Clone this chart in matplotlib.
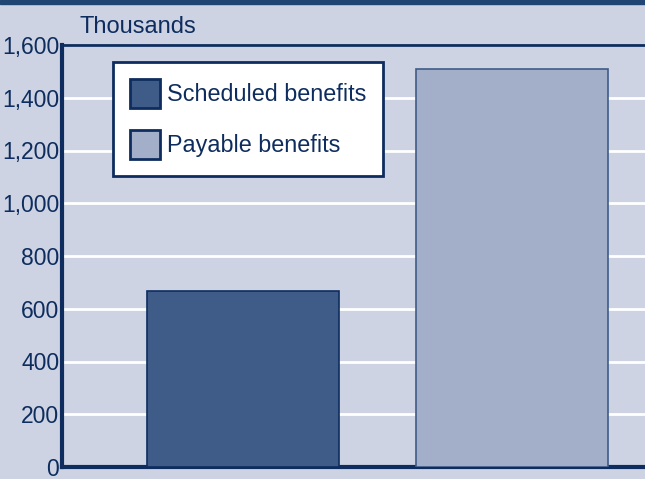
import matplotlib
matplotlib.use("Agg")
import matplotlib.pyplot as plt
from matplotlib.ticker import FuncFormatter

labels = ["Scheduled benefits", "Payable benefits"]
values = [667, 1509]
colors = ["#3f5b87", "#a3afc9"]
yticks = [0, 200, 400, 600, 800, 1000, 1200, 1400, 1600]

navy = "#0e2d5e"
bg = "#cdd3e3"

plt.rcParams["font.family"] = ["Liberation Sans", "DejaVu Sans"]

fig = plt.figure(figsize=(6.45, 4.79), dpi=100, facecolor=bg)
ax = fig.add_axes([62 / 645, 12 / 479, 583 / 645, 422 / 479])
ax.set_facecolor(bg)

# thin dark strip along the top of the figure
fig.patches.append(plt.Rectangle((0, 1 - 4 / 479), 1, 4 / 479, transform=fig.transFigure,
                                 color="#1f4573", zorder=0))

bars = ax.bar([0, 1], values, width=0.713, color=colors, edgecolor=[navy, "#3f5b87"],
              linewidth=1.2, label=labels, zorder=3)

ax.set_xlim(-0.672, 1.492)
ax.set_ylim(0, 1600)
ax.set_yticks(yticks)
ax.yaxis.set_major_formatter(FuncFormatter(lambda v, p: f"{int(v):,}"))
ax.set_xticks([])
ax.tick_params(axis="y", length=0, pad=2, labelsize=16.5, labelcolor=navy)
ax.grid(axis="y", color="white", linewidth=2, zorder=1)

for s in ["left", "bottom"]:
    ax.spines[s].set_color(navy)
    ax.spines[s].set_linewidth(3)
ax.spines["top"].set_color(navy)
ax.spines["top"].set_linewidth(2)
ax.spines["right"].set_visible(False)

fig.text(80 / 645, 1 - 27 / 479, "Thousands", ha="left", va="center",
         fontsize=17, color=navy)

leg = ax.legend(loc="upper left", bbox_to_anchor=(51 / 583, 1 - 17 / 422), fontsize=16.8,
                frameon=True, fancybox=False, handlelength=1.3, handleheight=1.55,
                labelcolor=navy, borderpad=0.72, labelspacing=0.95, handletextpad=0.3,
                borderaxespad=0)
leg.get_frame().set_edgecolor(navy)
leg.get_frame().set_linewidth(2)
leg.get_frame().set_facecolor("white")
leg.get_frame().set_alpha(1)
for h in leg.legend_handles:
    h.set_edgecolor(navy)
    h.set_linewidth(2)

fig.savefig("out.png", dpi=100, facecolor=bg)
